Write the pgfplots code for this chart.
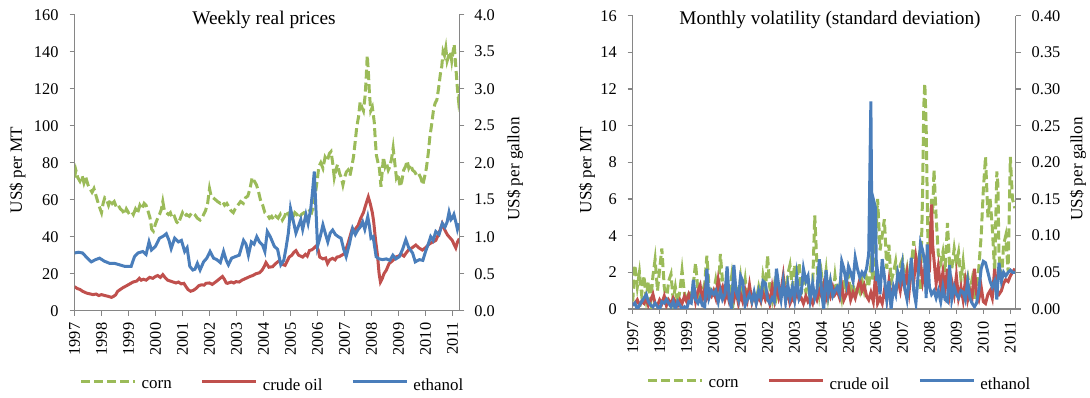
\documentclass[border=0pt]{standalone}
\usepackage{pgfplots}
\pgfplotsset{compat=1.18}
\usepackage{fontspec}
\setmainfont{Liberation Serif}
\definecolor{corncol}{HTML}{9BBB59}
\definecolor{oilcol}{HTML}{C0504D}
\definecolor{ethcol}{HTML}{4A7EBB}
\definecolor{axgrey}{HTML}{868686}
\pgfplotsset{
  base/.style={scale only axis, xmin=1997, xmax=2011.25, tick align=outside,
    major tick length=2.5bp, minor tick length=2.5bp,
    axis line style={axgrey, line width=0.7bp, -},
    tick style={axgrey, line width=0.7bp},
    tick label style={font=\fontsize{8.2}{9.8}\selectfont, black, /pgf/number format/assume math mode=true},
    xticklabel style={rotate=90, anchor=east, /pgf/number format/1000 sep={}},
    xtick={1997,1998,...,2011}},
  cornst/.style={corncol, line width=1.5bp, dash pattern=on 4.5bp off 2bp},
  oilst/.style={oilcol, line width=1.5bp},
  ethst/.style={ethcol, line width=1.5bp},
  leg/.style={legend image code/.code={\draw[##1] (0bp,2.2bp) -- (27bp,2.2bp);},
    legend style={anchor=center, draw=none, fill=none, legend columns=3,
      font=\fontsize{8.5}{10}\selectfont, nodes={inner sep=0pt},
      /tikz/every odd column/.append style={column sep=2.5bp},
      /tikz/every even column/.append style={column sep=14.5bp}}},
}
\begin{document}
\begin{tikzpicture}
\useasboundingbox (0,0) rectangle (545bp,199bp);
% ---------------- Left panel ----------------
\begin{axis}[base, at={(37.25bp,43.65bp)}, anchor=south west, width=192.4bp, height=148bp,
  ymin=0, ymax=160, ytick={0,20,...,160}, axis y line*=left, axis x line*=bottom,
  yticklabel style={xshift=-2bp}]
\addplot[cornst] coordinates {(1997.0,72) (1997.05,76) (1997.12,72) (1997.2,70) (1997.28,73) (1997.35,69) (1997.42,72) (1997.5,68) (1997.57,66) (1997.65,64) (1997.72,66) (1997.8,62) (1997.88,58) (1997.95,55) (1998.0,53) (1998.06,58) (1998.12,61) (1998.19,60) (1998.26,57) (1998.33,60) (1998.4,58) (1998.47,59) (1998.55,56) (1998.62,57) (1998.7,55) (1998.78,54) (1998.85,52) (1998.92,55) (1999.0,53) (1999.1,54) (1999.18,52) (1999.26,55) (1999.34,53) (1999.42,57) (1999.5,55) (1999.58,58) (1999.65,57) (1999.72,54) (1999.8,50) (1999.86,44) (1999.92,43) (2000.0,47) (2000.08,50) (2000.15,52) (2000.22,55) (2000.27,59) (2000.33,54) (2000.4,53) (2000.48,52) (2000.55,53) (2000.62,50) (2000.7,51) (2000.78,48) (2000.85,47) (2000.92,50) (2001.0,53) (2001.08,51) (2001.15,52) (2001.25,51) (2001.35,53) (2001.45,52) (2001.55,50) (2001.65,49) (2001.75,51) (2001.85,54) (2001.93,58) (2002.0,66) (2002.06,62) (2002.14,61) (2002.22,60) (2002.3,59) (2002.4,58) (2002.48,59) (2002.56,57) (2002.64,58) (2002.72,56) (2002.8,54) (2002.88,53) (2002.95,55) (2003.05,57) (2003.15,59) (2003.25,58) (2003.33,61) (2003.42,62) (2003.5,66) (2003.58,72) (2003.66,70) (2003.74,68) (2003.82,64) (2003.9,59) (2003.97,57) (2004.05,53) (2004.14,52) (2004.22,50) (2004.3,51) (2004.38,49) (2004.46,51) (2004.54,50) (2004.62,52) (2004.7,49) (2004.78,51) (2004.86,54) (2004.93,52) (2005.0,49) (2005.08,50) (2005.16,53) (2005.24,52) (2005.32,50) (2005.4,52) (2005.5,53) (2005.6,52) (2005.7,54) (2005.78,53) (2005.86,57) (2005.92,63) (2006.0,72) (2006.05,78) (2006.12,80) (2006.2,77) (2006.28,83) (2006.36,81) (2006.44,85) (2006.5,86) (2006.56,80) (2006.62,72) (2006.68,76) (2006.74,79) (2006.82,74) (2006.88,72) (2006.94,68) (2007.0,72) (2007.07,75) (2007.13,76) (2007.2,73) (2007.27,78) (2007.33,83) (2007.4,92) (2007.45,99) (2007.52,105) (2007.58,113) (2007.64,110) (2007.7,108) (2007.76,116) (2007.8,125) (2007.84,138) (2007.88,130) (2007.92,118) (2007.97,108) (2008.03,110) (2008.1,102) (2008.14,92) (2008.18,84) (2008.24,80) (2008.29,77) (2008.35,67) (2008.4,76) (2008.44,83) (2008.5,78) (2008.55,80) (2008.62,76) (2008.68,78) (2008.74,82) (2008.8,88) (2008.86,80) (2008.92,72) (2008.98,74) (2009.06,67) (2009.12,70) (2009.19,76) (2009.26,78) (2009.32,81) (2009.38,77) (2009.45,79) (2009.52,76) (2009.6,75) (2009.68,73) (2009.75,74) (2009.82,72) (2009.9,68) (2009.96,72) (2010.03,77) (2010.1,85) (2010.16,94) (2010.22,100) (2010.29,108) (2010.35,112) (2010.42,114) (2010.48,120) (2010.55,128) (2010.6,132) (2010.65,140) (2010.7,138) (2010.75,142) (2010.8,135) (2010.86,138) (2010.92,140) (2010.97,135) (2011.02,140) (2011.06,144) (2011.1,136) (2011.14,128) (2011.18,120) (2011.22,114) (2011.25,117)};
\addplot[oilst] coordinates {(1997.0,13) (1997.1,12) (1997.2,11.5) (1997.3,10.5) (1997.45,9.5) (1997.6,9) (1997.68,8.7) (1997.8,9) (1997.9,8.2) (1998.0,8.7) (1998.12,8.2) (1998.24,7.8) (1998.37,7.2) (1998.45,7.8) (1998.52,8.5) (1998.6,10.5) (1998.7,11.5) (1998.8,12.5) (1998.93,13.5) (1999.05,14.5) (1999.17,15.5) (1999.3,16) (1999.4,17.5) (1999.47,16.5) (1999.55,17) (1999.65,16.5) (1999.78,18) (1999.9,17.5) (2000.0,18.5) (2000.08,19) (2000.18,18) (2000.27,19.5) (2000.35,18) (2000.45,16.5) (2000.55,16) (2000.65,15.5) (2000.76,15) (2000.85,15.5) (2000.95,14.5) (2001.05,14.8) (2001.13,13) (2001.2,11.5) (2001.3,10.5) (2001.4,11) (2001.5,12) (2001.6,13.5) (2001.7,14) (2001.8,13.8) (2001.87,14.8) (2002.0,15) (2002.1,14.2) (2002.24,15.7) (2002.35,17) (2002.48,18.5) (2002.55,17) (2002.62,15) (2002.67,14.8) (2002.8,15.5) (2002.9,15) (2002.98,15.7) (2003.1,15.5) (2003.2,16.5) (2003.35,17.5) (2003.5,18.5) (2003.6,19) (2003.72,20) (2003.85,20.5) (2003.95,22) (2004.03,24) (2004.09,26) (2004.2,23.5) (2004.34,23.8) (2004.45,25.5) (2004.58,27) (2004.7,25) (2004.8,24.5) (2004.95,29) (2005.05,30) (2005.12,31.5) (2005.2,32.5) (2005.3,30) (2005.45,29) (2005.55,30.5) (2005.62,29.5) (2005.7,32.5) (2005.8,33) (2005.88,34) (2005.95,35) (2006.02,33) (2006.08,29) (2006.2,28) (2006.3,28.5) (2006.37,25.5) (2006.45,27.5) (2006.56,28.3) (2006.65,27.5) (2006.72,29) (2006.8,29.2) (2006.9,30) (2007.0,31) (2007.05,33) (2007.12,36) (2007.2,40) (2007.28,44) (2007.35,43) (2007.42,44.5) (2007.5,46) (2007.6,50) (2007.7,53) (2007.78,57) (2007.88,61.5) (2007.95,58) (2008.03,53) (2008.08,48) (2008.15,38) (2008.22,30) (2008.28,20) (2008.33,15.5) (2008.4,17.5) (2008.46,20) (2008.55,22) (2008.65,25.5) (2008.78,27) (2008.9,29) (2009.0,29.5) (2009.1,30.5) (2009.2,29.5) (2009.27,31) (2009.38,33) (2009.5,34) (2009.64,35.5) (2009.75,34) (2009.88,32.8) (2010.0,34) (2010.13,36) (2010.25,37) (2010.38,38) (2010.5,42) (2010.62,47) (2010.7,44) (2010.81,41) (2010.9,39.5) (2010.99,38) (2011.05,36) (2011.12,34) (2011.18,37) (2011.25,39)};
\end{axis}
\begin{axis}[base, leg, at={(37.25bp,43.65bp)}, anchor=south west, width=192.4bp, height=148bp,
  ymin=0, ymax=4, ytick={0,0.5,...,4}, axis y line*=right, axis x line=none,
  yticklabel style={xshift=1.5bp, /pgf/number format/.cd, fixed, fixed zerofill, precision=1},
  legend style={at={(axis description cs:0.512,-0.254)}}]
\addlegendimage{cornst}\addlegendentry{corn}
\addlegendimage{oilst}\addlegendentry{crude oil}
\addplot[ethst] coordinates {(1997.0,0.78) (1997.15,0.79) (1997.3,0.78) (1997.45,0.72) (1997.62,0.66) (1997.78,0.69) (1997.93,0.71) (1998.1,0.67) (1998.3,0.64) (1998.48,0.64) (1998.67,0.62) (1998.85,0.60) (1999.1,0.60) (1999.22,0.73) (1999.35,0.78) (1999.53,0.80) (1999.65,0.76) (1999.76,0.93) (1999.85,0.82) (2000.0,0.87) (2000.15,0.98) (2000.3,1.01) (2000.4,1.04) (2000.5,0.95) (2000.58,0.84) (2000.71,0.98) (2000.85,0.93) (2000.96,0.95) (2001.08,0.80) (2001.17,0.85) (2001.27,0.60) (2001.38,0.55) (2001.46,0.56) (2001.55,0.64) (2001.65,0.55) (2001.78,0.66) (2001.9,0.71) (2002.02,0.80) (2002.15,0.71) (2002.27,0.69) (2002.4,0.65) (2002.52,0.80) (2002.62,0.68) (2002.7,0.62) (2002.82,0.71) (2002.95,0.73) (2003.1,0.75) (2003.26,0.95) (2003.35,0.90) (2003.44,0.75) (2003.55,0.93) (2003.65,0.90) (2003.75,1.00) (2003.85,0.93) (2003.96,0.89) (2004.05,0.80) (2004.14,1.07) (2004.25,1.00) (2004.4,0.87) (2004.52,0.83) (2004.64,0.62) (2004.75,0.68) (2004.83,0.84) (2004.92,1.05) (2005.0,1.38) (2005.08,1.25) (2005.2,1.05) (2005.3,1.15) (2005.38,1.23) (2005.45,1.10) (2005.57,1.30) (2005.65,1.18) (2005.75,1.38) (2005.81,1.59) (2005.88,1.88) (2005.94,1.38) (2006.0,0.87) (2006.1,1.00) (2006.2,1.16) (2006.3,1.03) (2006.38,0.93) (2006.47,1.05) (2006.56,1.09) (2006.66,1.03) (2006.77,1.00) (2006.87,0.98) (2006.97,0.83) (2007.06,0.73) (2007.18,0.90) (2007.3,1.11) (2007.4,1.03) (2007.49,1.09) (2007.58,1.13) (2007.67,1.20) (2007.75,1.10) (2007.86,1.27) (2007.92,1.15) (2007.98,0.98) (2008.06,1.00) (2008.17,0.73) (2008.28,0.70) (2008.41,0.69) (2008.55,0.70) (2008.68,0.68) (2008.79,0.75) (2008.9,0.70) (2009.03,0.73) (2009.15,0.83) (2009.27,0.96) (2009.38,0.85) (2009.52,0.78) (2009.62,0.66) (2009.77,0.69) (2009.9,0.68) (2010.0,0.80) (2010.1,0.90) (2010.19,1.00) (2010.28,0.95) (2010.38,1.07) (2010.5,1.03) (2010.62,1.18) (2010.72,1.13) (2010.8,1.20) (2010.87,1.33) (2010.94,1.23) (2010.99,1.25) (2011.05,1.30) (2011.12,1.20) (2011.18,1.10) (2011.24,1.18)};
\addlegendentry{ethanol}
\end{axis}
% ---------------- Right panel ----------------
\begin{axis}[base, at={(316.35bp,44.5bp)}, anchor=south west, width=191.5bp, height=146.65bp,
  xmax=2011.2, ymin=0, ymax=16, ytick={0,2,...,16}, axis y line*=left, axis x line*=bottom,
  minor x tick num=3, yticklabel style={xshift=-2bp}]
\addplot[cornst] coordinates {(1997.0,0.4) (1997.08,2.4) (1997.17,1.2) (1997.25,2.0) (1997.33,0.8) (1997.42,1.8) (1997.5,0.6) (1997.58,1.5) (1997.67,0.4) (1997.75,1.8) (1997.83,2.7) (1997.92,1.0) (1998.0,2.2) (1998.08,3.3) (1998.17,1.2) (1998.25,0.4) (1998.33,1.5) (1998.42,1.9) (1998.5,0.5) (1998.58,1.2) (1998.67,0.3) (1998.75,1.0) (1998.83,2.1) (1998.92,0.8) (1999.0,0.3) (1999.08,1.0) (1999.17,0.4) (1999.25,1.4) (1999.33,2.5) (1999.42,1.0) (1999.5,0.3) (1999.58,0.9) (1999.67,1.4) (1999.75,2.9) (1999.83,1.2) (1999.92,0.6) (2000.0,0.9) (2000.08,1.6) (2000.17,0.8) (2000.25,3.0) (2000.33,1.5) (2000.42,0.6) (2000.5,1.4) (2000.58,0.8) (2000.67,1.8) (2000.75,0.5) (2000.83,1.2) (2000.92,0.7) (2001.0,1.7) (2001.08,0.6) (2001.17,1.6) (2001.25,0.5) (2001.33,1.0) (2001.42,0.4) (2001.5,0.8) (2001.58,0.5) (2001.67,1.2) (2001.75,0.6) (2001.83,1.8) (2001.92,1.0) (2002.0,2.9) (2002.08,1.2) (2002.17,0.5) (2002.25,1.3) (2002.33,0.6) (2002.42,1.1) (2002.5,0.7) (2002.58,1.6) (2002.67,0.8) (2002.75,1.9) (2002.83,2.4) (2002.92,1.2) (2003.0,2.4) (2003.08,1.4) (2003.17,2.5) (2003.25,0.8) (2003.33,1.9) (2003.42,0.9) (2003.5,1.5) (2003.58,0.5) (2003.67,1.2) (2003.75,5.1) (2003.83,2.4) (2003.92,0.9) (2004.0,1.9) (2004.08,1.0) (2004.17,2.1) (2004.25,0.7) (2004.33,1.5) (2004.42,0.6) (2004.5,1.8) (2004.58,0.8) (2004.67,1.3) (2004.75,0.6) (2004.83,1.6) (2004.92,0.9) (2005.0,1.9) (2005.08,0.8) (2005.17,1.4) (2005.25,0.6) (2005.33,1.2) (2005.42,0.9) (2005.5,1.6) (2005.58,1.0) (2005.67,1.7) (2005.75,1.2) (2005.83,2.4) (2005.92,1.5) (2006.0,3.5) (2006.08,6.0) (2006.17,3.2) (2006.25,4.0) (2006.33,4.9) (2006.42,2.2) (2006.5,3.5) (2006.58,1.5) (2006.67,2.0) (2006.75,2.6) (2006.83,1.6) (2006.92,2.4) (2007.0,2.7) (2007.08,1.5) (2007.17,2.2) (2007.25,1.2) (2007.33,2.4) (2007.42,3.7) (2007.5,2.0) (2007.58,2.6) (2007.67,1.0) (2007.75,6.5) (2007.79,11.0) (2007.83,12.3) (2007.88,10.0) (2007.92,6.0) (2007.96,2.2) (2008.0,3.0) (2008.08,6.0) (2008.12,5.2) (2008.17,7.6) (2008.25,5.0) (2008.33,3.0) (2008.42,2.5) (2008.5,3.1) (2008.58,2.0) (2008.67,4.7) (2008.75,2.4) (2008.83,2.2) (2008.92,3.3) (2009.0,2.5) (2009.08,3.1) (2009.17,1.6) (2009.25,2.6) (2009.33,1.4) (2009.42,1.8) (2009.5,1.0) (2009.58,1.6) (2009.67,0.5) (2009.75,1.3) (2009.83,2.2) (2009.92,4.0) (2010.0,6.5) (2010.08,8.3) (2010.17,5.0) (2010.25,6.0) (2010.33,4.5) (2010.42,2.0) (2010.5,7.5) (2010.54,6.8) (2010.58,3.0) (2010.67,1.5) (2010.75,3.5) (2010.83,4.0) (2010.92,2.0) (2011.0,8.3) (2011.08,6.0) (2011.17,5.5)};
\addplot[oilst] coordinates {(1997.0,0.2) (1997.08,0.3) (1997.17,0.5) (1997.25,0.2) (1997.33,0.4) (1997.42,0.3) (1997.5,0.6) (1997.58,0.2) (1997.67,0.5) (1997.75,0.8) (1997.83,0.3) (1997.92,0.2) (1998.0,0.5) (1998.08,0.3) (1998.17,0.7) (1998.25,0.2) (1998.33,0.5) (1998.42,0.3) (1998.5,0.6) (1998.58,0.4) (1998.67,0.2) (1998.75,0.5) (1998.83,0.3) (1998.92,0.7) (1999.0,0.4) (1999.08,0.8) (1999.17,0.5) (1999.25,1.1) (1999.33,0.4) (1999.42,1.0) (1999.5,1.3) (1999.58,0.5) (1999.67,1.1) (1999.75,0.6) (1999.83,0.9) (1999.92,0.7) (2000.0,1.0) (2000.08,0.6) (2000.17,1.6) (2000.25,0.9) (2000.33,1.2) (2000.42,0.5) (2000.5,0.9) (2000.58,0.4) (2000.67,0.8) (2000.75,0.5) (2000.83,1.0) (2000.92,0.3) (2001.0,0.8) (2001.08,0.4) (2001.17,1.0) (2001.25,0.5) (2001.33,1.3) (2001.42,0.4) (2001.5,0.8) (2001.58,0.3) (2001.67,0.7) (2001.75,0.4) (2001.83,0.9) (2001.92,0.5) (2002.0,0.8) (2002.08,0.3) (2002.17,1.2) (2002.25,0.5) (2002.33,1.3) (2002.42,0.6) (2002.5,1.0) (2002.58,1.8) (2002.67,0.5) (2002.75,0.9) (2002.83,0.3) (2002.92,0.6) (2003.0,0.4) (2003.08,1.0) (2003.17,0.5) (2003.25,0.6) (2003.33,0.3) (2003.42,0.7) (2003.5,0.4) (2003.58,0.6) (2003.67,0.3) (2003.75,0.8) (2003.83,0.5) (2003.92,1.0) (2004.0,0.7) (2004.08,1.3) (2004.17,0.6) (2004.25,1.1) (2004.33,0.7) (2004.42,1.2) (2004.5,0.8) (2004.58,1.0) (2004.67,0.6) (2004.75,1.3) (2004.83,0.5) (2004.92,0.8) (2005.0,1.2) (2005.08,0.5) (2005.17,0.9) (2005.25,0.6) (2005.33,1.1) (2005.42,1.6) (2005.5,1.0) (2005.58,1.3) (2005.67,0.7) (2005.75,0.5) (2005.83,0.9) (2005.92,0.4) (2006.0,1.8) (2006.08,0.3) (2006.17,0.6) (2006.25,0.3) (2006.33,1.0) (2006.42,0.5) (2006.5,1.5) (2006.58,0.6) (2006.67,1.2) (2006.75,0.9) (2006.83,1.6) (2006.92,1.0) (2007.0,1.8) (2007.08,1.2) (2007.17,2.0) (2007.25,1.0) (2007.33,2.2) (2007.42,1.5) (2007.5,2.8) (2007.58,2.0) (2007.67,2.5) (2007.75,1.5) (2007.83,2.2) (2007.92,3.0) (2008.0,2.0) (2008.08,5.7) (2008.12,3.5) (2008.17,2.7) (2008.25,1.4) (2008.33,2.3) (2008.42,1.2) (2008.5,2.0) (2008.58,1.0) (2008.67,2.2) (2008.75,0.8) (2008.83,1.5) (2008.92,0.8) (2009.0,1.8) (2009.08,0.6) (2009.17,1.2) (2009.25,0.5) (2009.33,1.5) (2009.42,0.5) (2009.5,1.0) (2009.58,0.6) (2009.67,2.2) (2009.75,0.8) (2009.83,0.5) (2009.92,1.2) (2010.0,0.4) (2010.08,0.3) (2010.17,0.8) (2010.25,1.0) (2010.33,0.6) (2010.42,2.2) (2010.5,1.0) (2010.58,0.8) (2010.67,1.0) (2010.75,1.4) (2010.83,1.6) (2010.92,1.5) (2011.0,1.8) (2011.08,2.0) (2011.17,2.2)};
\end{axis}
\begin{axis}[base, leg, at={(316.35bp,44.5bp)}, anchor=south west, width=191.5bp, height=146.65bp,
  xmax=2011.2, ymin=0, ymax=0.4, ytick={0,0.05,...,0.4}, axis y line*=right, axis x line=none,
  yticklabel style={xshift=2bp, /pgf/number format/.cd, fixed, fixed zerofill, precision=2},
  legend style={at={(axis description cs:0.537,-0.258)}}]
\addlegendimage{cornst}\addlegendentry{corn}
\addlegendimage{oilst}\addlegendentry{crude oil}
\addplot[ethst] coordinates {(1997.0,0.005) (1997.08,0.008) (1997.17,0.0) (1997.25,0.005) (1997.33,0.010) (1997.42,0.015) (1997.5,0.020) (1997.58,0.010) (1997.67,0.005) (1997.75,0.003) (1997.83,0.008) (1997.92,0.003) (1998.0,0.0) (1998.08,0.010) (1998.17,0.008) (1998.25,0.013) (1998.33,0.008) (1998.42,0.003) (1998.5,0.010) (1998.58,0.0) (1998.67,0.010) (1998.75,0.005) (1998.83,0.0) (1998.92,0.003) (1999.0,0.0) (1999.08,0.010) (1999.17,0.008) (1999.25,0.040) (1999.33,0.013) (1999.42,0.008) (1999.5,0.015) (1999.58,0.005) (1999.67,0.003) (1999.75,0.055) (1999.83,0.015) (1999.92,0.025) (2000.0,0.020) (2000.08,0.025) (2000.17,0.010) (2000.25,0.025) (2000.33,0.013) (2000.42,0.020) (2000.5,0.058) (2000.58,0.013) (2000.67,0.0) (2000.75,0.060) (2000.83,0.025) (2000.92,0.013) (2001.0,0.045) (2001.08,0.038) (2001.17,0.005) (2001.25,0.013) (2001.33,0.020) (2001.42,0.010) (2001.5,0.023) (2001.58,0.008) (2001.67,0.025) (2001.75,0.015) (2001.83,0.038) (2001.92,0.035) (2002.0,0.013) (2002.08,0.008) (2002.17,0.015) (2002.25,0.010) (2002.33,0.055) (2002.42,0.030) (2002.5,0.013) (2002.58,0.038) (2002.67,0.010) (2002.75,0.033) (2002.83,0.015) (2002.92,0.030) (2003.0,0.013) (2003.08,0.045) (2003.17,0.015) (2003.25,0.023) (2003.33,0.055) (2003.42,0.038) (2003.5,0.045) (2003.58,0.013) (2003.67,0.035) (2003.75,0.015) (2003.83,0.025) (2003.92,0.068) (2004.0,0.025) (2004.08,0.0) (2004.17,0.053) (2004.25,0.020) (2004.33,0.038) (2004.42,0.018) (2004.5,0.025) (2004.58,0.030) (2004.67,0.020) (2004.75,0.065) (2004.83,0.055) (2004.92,0.035) (2005.0,0.058) (2005.08,0.050) (2005.17,0.038) (2005.25,0.070) (2005.33,0.055) (2005.42,0.043) (2005.5,0.050) (2005.58,0.045) (2005.67,0.055) (2005.75,0.075) (2005.83,0.283) (2005.88,0.050) (2005.92,0.150) (2006.0,0.138) (2006.04,0.038) (2006.08,0.050) (2006.17,0.020) (2006.25,0.068) (2006.33,0.045) (2006.42,0.013) (2006.5,0.038) (2006.58,0.0) (2006.67,0.030) (2006.75,0.020) (2006.83,0.050) (2006.92,0.038) (2007.0,0.060) (2007.08,0.030) (2007.17,0.013) (2007.25,0.038) (2007.33,0.070) (2007.42,0.025) (2007.5,0.008) (2007.58,0.045) (2007.67,0.090) (2007.75,0.080) (2007.83,0.063) (2007.88,0.015) (2007.92,0.088) (2008.0,0.030) (2008.08,0.020) (2008.17,0.025) (2008.25,0.015) (2008.33,0.025) (2008.42,0.010) (2008.5,0.030) (2008.58,0.013) (2008.67,0.010) (2008.75,0.060) (2008.83,0.013) (2008.92,0.030) (2009.0,0.020) (2009.08,0.015) (2009.17,0.025) (2009.25,0.023) (2009.33,0.013) (2009.42,0.038) (2009.5,0.015) (2009.58,0.008) (2009.67,0.003) (2009.75,0.008) (2009.83,0.025) (2009.92,0.055) (2010.0,0.065) (2010.08,0.063) (2010.17,0.050) (2010.25,0.038) (2010.33,0.030) (2010.42,0.038) (2010.5,0.013) (2010.58,0.063) (2010.67,0.038) (2010.75,0.050) (2010.83,0.045) (2010.92,0.050) (2011.0,0.053) (2011.08,0.050) (2011.17,0.050)};
\addlegendentry{ethanol}
\end{axis}
% ---------------- titles and axis labels ----------------
\node[anchor=base, font=\fontsize{9.7}{11}\selectfont] at (132bp,186.5bp) {Weekly real prices};
\node[anchor=base, font=\fontsize{9.7}{11}\selectfont] at (415bp,186.5bp) {Monthly volatility (standard deviation)};
\node[rotate=90, font=\fontsize{8.6}{10}\selectfont] at (8.7bp,114bp) {US\$ per MT};
\node[rotate=90, font=\fontsize{8.6}{10}\selectfont] at (257.5bp,114.5bp) {US\$ per gallon};
\node[rotate=90, font=\fontsize{8.6}{10}\selectfont] at (293.5bp,114bp) {US\$ per MT};
\node[rotate=90, font=\fontsize{8.6}{10}\selectfont] at (539bp,114.5bp) {US\$ per gallon};
\end{tikzpicture}
\end{document}
